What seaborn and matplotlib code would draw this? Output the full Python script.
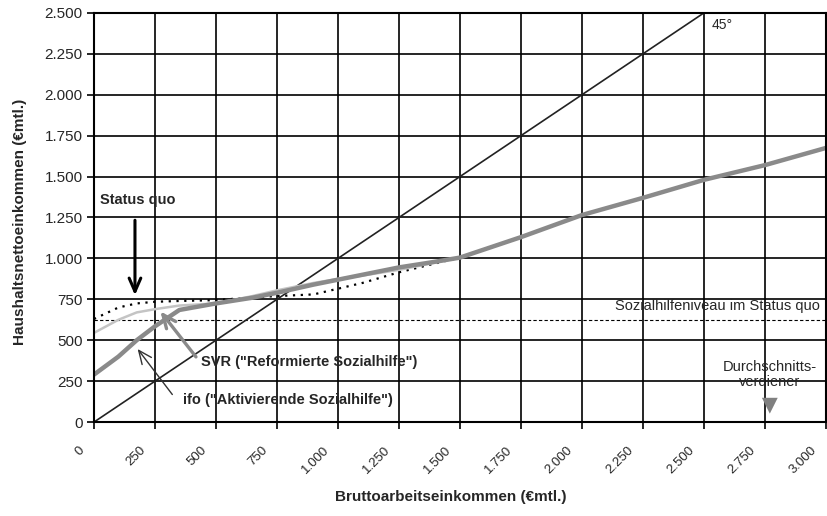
import numpy as np
import pandas as pd
import matplotlib
matplotlib.use("Agg")
import matplotlib.pyplot as plt
import matplotlib.transforms as mtrans
import seaborn as sns

sns.set_theme(style="white")
plt.rcParams['font.family'] = ['Liberation Sans', 'DejaVu Sans']

# Data
gross = [0, 100, 175, 250, 350, 500, 650, 750, 900, 1000, 1100, 1250, 1400, 1500,
         1750, 2000, 2250, 2500, 2750, 3000]
status_quo = [630, 700, 725, 735, 740, 745, 762, 770, 780, 815, 850, 915, 970, 1005,
              1130, 1265, 1370, 1480, 1570, 1675]
svr = [545, 625, 670, 690, 712, 725, 770, 805, 850, 875, 895, 930, 975, 1005,
       1130, 1265, 1370, 1480, 1570, 1675]
ifo = [290, 400, 500, 585, 685, 725, 760, 790, 840, 870, 900, 945, 980, 1005,
       1130, 1265, 1370, 1480, 1570, 1675]
diag_x = [0, 2500]
diag_y = [0, 2500]
sozialhilfe_level = 625
avg_earner_x = 2770
avg_earner_y = 100

df = pd.DataFrame({"gross": gross, "Status quo": status_quo, "SVR": svr, "ifo": ifo})

fig = plt.figure(figsize=(8.28, 5.16), dpi=100)
ax = fig.add_axes([0.1135, 0.182, 0.884, 0.793])

ax.set_xlim(0, 3000)
ax.set_ylim(0, 2500)
ticks_x = np.arange(0, 3001, 250)
ticks_y = np.arange(0, 2501, 250)
ax.set_xticks(ticks_x)
ax.set_yticks(ticks_y)

def de(v):
    return f"{int(v):,}".replace(",", ".")

ax.set_xticklabels([de(v) for v in ticks_x], rotation=45, ha='right', va='center',
                   rotation_mode='anchor', fontsize=9.5)
ax.set_yticklabels([de(v) for v in ticks_y], fontsize=11)
ax.grid(True, color='black', linewidth=1.2)
ax.set_axisbelow(True)
for s in ax.spines.values():
    s.set_color('black')
    s.set_linewidth(1.5)
ax.tick_params(axis='both', which='both', direction='out', length=5, width=1.2,
               color='black', bottom=True, left=True, pad=3)
ax.tick_params(axis='x', pad=14)
shift = mtrans.ScaledTranslation(-0.11, 0, fig.dpi_scale_trans)
for lab in ax.get_xticklabels():
    lab.set_transform(lab.get_transform() + shift)

# Sozialhilfeniveau
ax.axhline(sozialhilfe_level, color='black', linewidth=0.8, linestyle=(0, (3, 2)))
ax.text(2975, 710, "Sozialhilfeniveau im Status quo", ha='right',
        va='center', fontsize=10.5)

# 45 degree line
sns.lineplot(x=diag_x, y=diag_y, ax=ax, color='#222222', linewidth=1.2)
ax.text(2530, 2470, "45°", ha='left', va='top', fontsize=10)

# series
sns.lineplot(data=df, x="gross", y="Status quo", ax=ax, color='black', linewidth=1.6,
             linestyle=(0, (1, 2.5)))
sns.lineplot(data=df, x="gross", y="SVR", ax=ax, color='#c4c4c4', linewidth=1.8)
sns.lineplot(data=df, x="gross", y="ifo", ax=ax, color='#8a8a8a', linewidth=3.2)

# average earner
sns.scatterplot(x=[avg_earner_x], y=[avg_earner_y], ax=ax, marker='v', s=130,
                color='#808080', edgecolor='none', zorder=5)
ax.text(2770, 290, "Durchschnitts-\nverdiener", ha='center', va='center', fontsize=10.5,
        linespacing=1.15)

# annotations
ax.text(25, 1357, "Status quo", ha='left', va='center', fontsize=10.5, fontweight='bold')
ax.annotate("", xy=(168, 758), xytext=(168, 1250),
            arrowprops=dict(arrowstyle='->,head_length=0.8,head_width=0.35', color='black', lw=2.2))
ax.text(438, 367, 'SVR ("Reformierte Sozialhilfe")', ha='left', va='center', fontsize=10.5,
        fontweight='bold')
ax.annotate("", xy=(265, 690), xytext=(425, 385),
            arrowprops=dict(arrowstyle='->,head_length=0.8,head_width=0.35', color='#8a8a8a', lw=2.4))
ax.text(365, 134, 'ifo ("Aktivierende Sozialhilfe")', ha='left', va='center', fontsize=10.5,
        fontweight='bold')
ax.annotate("", xy=(172, 460), xytext=(328, 155),
            arrowprops=dict(arrowstyle='->,head_length=0.8,head_width=0.35', color='#333333', lw=1))

ax.set_xlabel("Bruttoarbeitseinkommen (€mtl.)", fontsize=11, fontweight='bold', va='center')
ax.xaxis.set_label_coords(0.488, -0.183)
ax.set_ylabel("Haushaltsnettoeinkommen (€mtl.)", fontsize=11, fontweight='bold', va='center')
ax.yaxis.set_label_coords(-0.101, 0.49)

fig.savefig("out.png", dpi=100)
